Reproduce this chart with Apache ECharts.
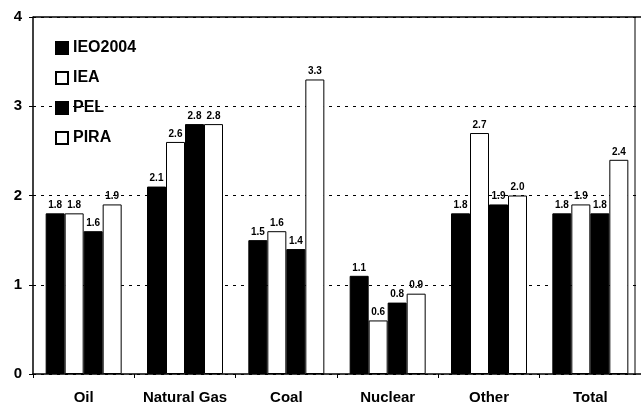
<!DOCTYPE html>
<html>
<head>
<meta charset="utf-8">
<script src="https://cdn.jsdelivr.net/npm/echarts@6/dist/echarts.min.js"></script>
<style>
  html, body { margin: 0; padding: 0; background: #fff; }
  #main { width: 641px; height: 410px; }
</style>
</head>
<body>
<div id="main"></div>
<script>
// categories and series values
var categories = ['Oil', 'Natural Gas', 'Coal', 'Nuclear', 'Other', 'Total'];
var ieo2004 = [1.8, 2.1, 1.5, 1.1, 1.8, 1.8];
var iea = [1.8, 2.6, 1.6, 0.6, 2.7, 1.9];
var pel = [1.6, 2.8, 1.4, 0.8, 1.9, 1.8];
var pira = [1.9, 2.8, 3.3, 0.9, 2.0, 2.4];

var FONT = 'Liberation Sans';

function bar(name, data, filled) {
    return {
        name: name,
        type: 'bar',
        data: data,
        barGap: '0%',
        barCategoryGap: '25%',
        itemStyle: {
            color: filled ? '#000' : '#fff',
            borderColor: '#000',
            borderWidth: 1
        },
        label: {
            show: true,
            position: 'top',
            distance: 3,
            fontFamily: FONT,
            fontSize: 10,
            fontWeight: 'bold',
            color: '#000',
            formatter: function (p) { return p.value.toFixed(1); }
        }
    };
}

var chart = echarts.init(document.getElementById('main'));
chart.setOption({
    animation: false,
    backgroundColor: '#fff',
    grid: { left: 33, right: -8, top: 17, bottom: 36 },
    legend: {
        orient: 'vertical',
        left: 50,
        top: 34,
        itemWidth: 12,
        itemHeight: 12,
        itemGap: 12,
        icon: 'rect',
        textStyle: { fontFamily: FONT, fontSize: 16, fontWeight: 'bold', color: '#000', lineHeight: 18 },
        data: ['IEO2004', 'IEA', 'PEL', 'PIRA']
    },
    xAxis: {
        type: 'category',
        data: categories,
        axisLine: { lineStyle: { color: '#000', width: 1.5 } },
        axisTick: { show: true, length: 4, inside: false, lineStyle: { color: '#000' } },
        axisLabel: { interval: 0, fontFamily: FONT, fontSize: 15, fontWeight: 'bold', color: '#000', margin: 16 }
    },
    yAxis: {
        type: 'value',
        min: 0,
        max: 4,
        interval: 1,
        axisLine: { show: true, lineStyle: { color: '#000', width: 1.5 } },
        axisTick: { show: true, length: 4, lineStyle: { color: '#000' } },
        axisLabel: { fontFamily: FONT, fontSize: 15, fontWeight: 'bold', color: '#000', margin: 11 },
        splitLine: { show: true, lineStyle: { color: '#000', type: [3, 5], width: 1 } }
    },
    graphic: [
        { type: 'line', shape: { x1: 33, y1: 17, x2: 641, y2: 17 }, style: { stroke: '#000', lineWidth: 1.5 } },
        { type: 'line', shape: { x1: 635, y1: 17, x2: 635, y2: 374 }, style: { stroke: '#000', lineWidth: 1 } }
    ],
    series: [
        bar('IEO2004', ieo2004, true),
        bar('IEA', iea, false),
        bar('PEL', pel, true),
        bar('PIRA', pira, false)
    ]
});
</script>
</body>
</html>
